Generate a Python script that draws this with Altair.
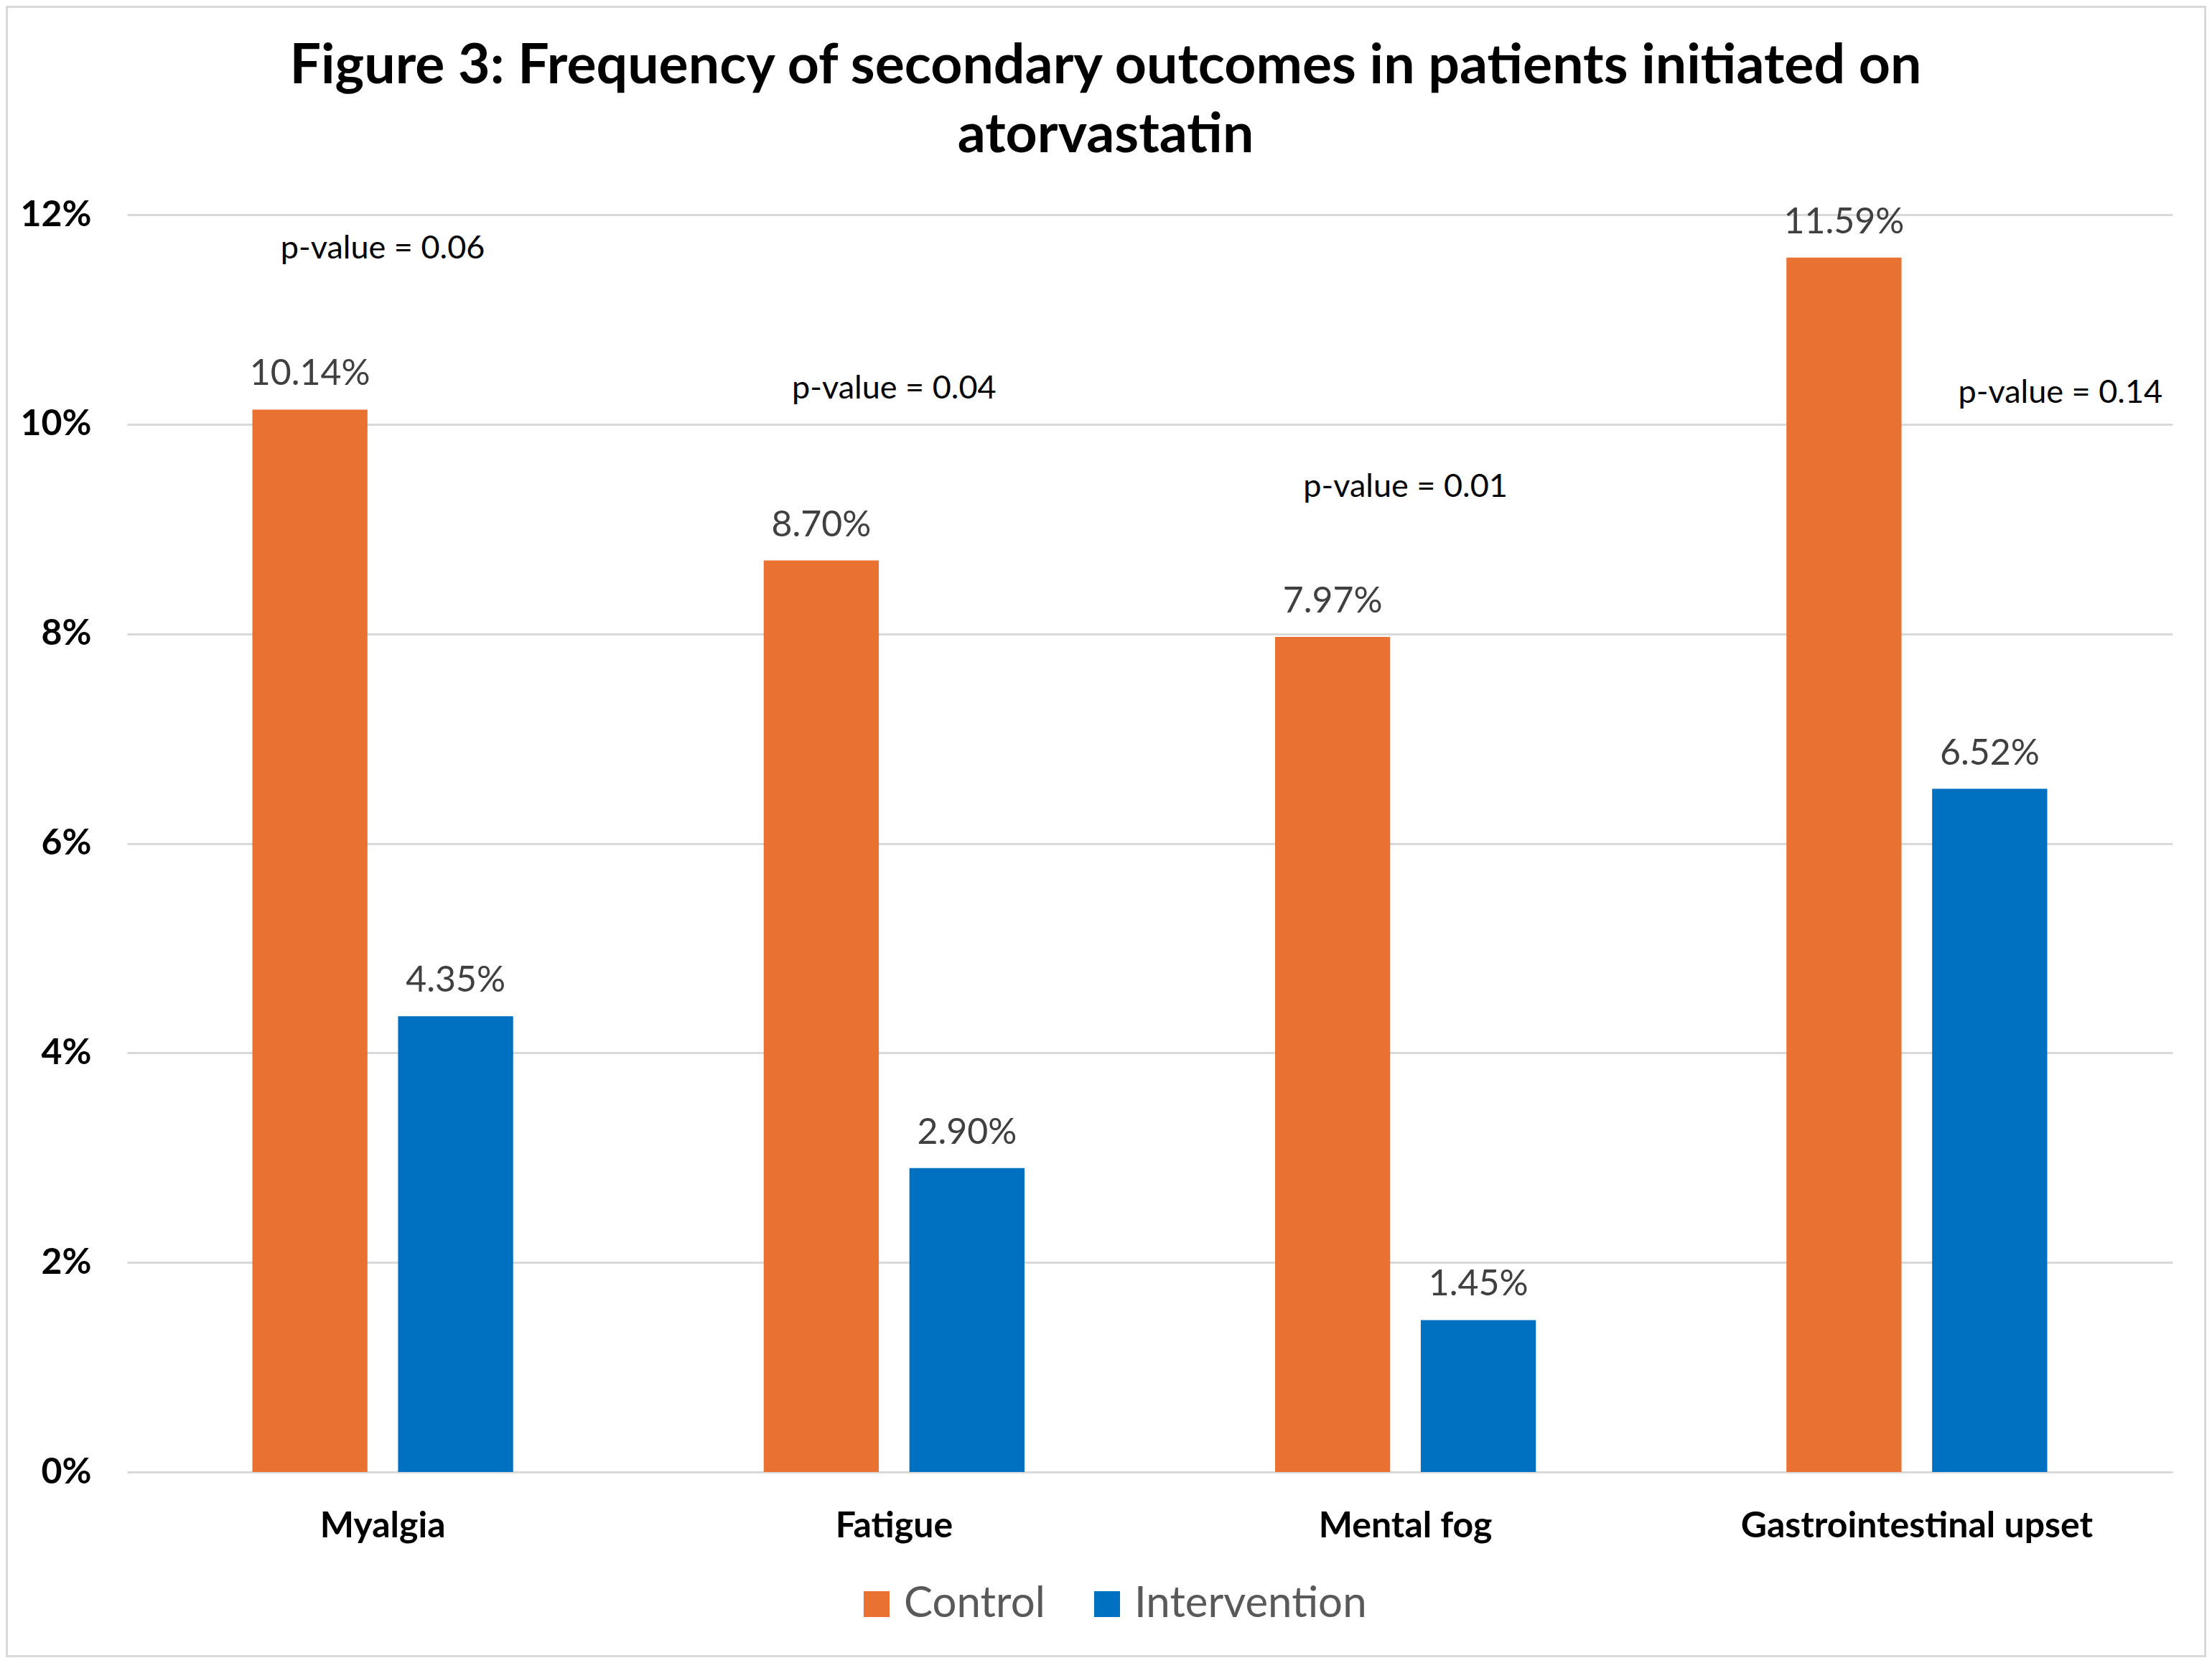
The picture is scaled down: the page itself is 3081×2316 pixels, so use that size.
import altair as alt
import pandas as pd

categories = ["Myalgia", "Fatigue", "Mental fog", "Gastrointestinal upset"]
groups = ["Control", "Intervention"]
control = [0.1014, 0.0870, 0.0797, 0.1159]
intervention = [0.0435, 0.0290, 0.0145, 0.0652]
p_labels = ["p-value = 0.06", "p-value = 0.04", "p-value = 0.01", "p-value = 0.14"]
p_label_y = [0.1168, 0.1034, 0.0940, 0.1030]
y_ticks = [0, 0.02, 0.04, 0.06, 0.08, 0.10, 0.12]
colors = ["#E97132", "#0070C0"]
title_line1 = "Figure 3: Frequency of secondary outcomes in patients initiated on"
title_line2 = "atorvastatin"

rows = []
for i, c in enumerate(categories):
    rows.append({"Outcome": c, "Group": "Control", "Value": control[i]})
    rows.append({"Outcome": c, "Group": "Intervention", "Value": intervention[i]})
df = pd.DataFrame(rows)
pdf = pd.DataFrame({"Outcome": categories, "Label": p_labels, "Y": p_label_y})

W, H = 2849, 1751
PL, PT, PR, PB = 169, 291, 47, 258
FONT = "Lato"

x = alt.X("Outcome:N", sort=categories, title=None,
          scale=alt.Scale(paddingInner=0.49, paddingOuter=0.245),
          axis=alt.Axis(labelAngle=0, labelFontSize=50, labelFontWeight="bold",
                        labelColor="black", labelPadding=50, ticks=False,
                        domain=False, labelFont=FONT, labelLimit=2000))
xoff = alt.XOffset("Group:N", sort=groups,
                   scale=alt.Scale(paddingInner=0.21, paddingOuter=0))
y = alt.Y("Value:Q", scale=alt.Scale(domain=[0, 0.12]), title=None,
          axis=alt.Axis(format=".0%", values=y_ticks, labelFontSize=50,
                        labelFontWeight="bold", labelColor="black",
                        labelPadding=50, ticks=False, domain=False,
                        gridColor="#D9D9D9", gridWidth=3, labelFont=FONT))
color = alt.Color("Group:N", sort=groups,
                  scale=alt.Scale(domain=groups, range=colors),
                  legend=alt.Legend(title=None, orient="none", direction="horizontal",
                                    legendX=1014, legendY=1905,
                                    symbolType="square", symbolSize=1300,
                                    symbolStrokeWidth=0, labelFont=FONT,
                                    labelFontSize=60, labelColor="#595959",
                                    labelOffset=8, columnPadding=56,
                                    labelLimit=2000))

one = pd.DataFrame({"a": [0]})
border = alt.Chart(one).mark_rect(
    fill="transparent", stroke="#D9D9D9", strokeWidth=3
).encode(x=alt.value(-PL + 1.5), x2=alt.value(W + PR - 1.5),
         y=alt.value(-PT + 1.5), y2=alt.value(H + PB - 1.5))

t1 = alt.Chart(one).mark_text(
    text=title_line1, font=FONT, fontSize=77, fontWeight="bold", color="black",
    align="center", baseline="alphabetic"
).encode(x=alt.value(1363), y=alt.value(-183))
t2 = alt.Chart(one).mark_text(
    text=title_line2, font=FONT, fontSize=77, fontWeight="bold", color="black",
    align="center", baseline="alphabetic"
).encode(x=alt.value(1363), y=alt.value(-87))

bars = alt.Chart(df).mark_bar().encode(x=x, xOffset=xoff, y=y, color=color)

labels = alt.Chart(df).mark_text(
    baseline="alphabetic", dy=-34, fontSize=50, color="#404040", font=FONT
).encode(x=x, xOffset=xoff, y=y, text=alt.Text("Value:Q", format=".2%"))

p_main = alt.Chart(pdf).transform_filter(
    alt.datum.Outcome != "Gastrointestinal upset"
).mark_text(baseline="middle", fontSize=45, color="black", font=FONT).encode(
    x=alt.X("Outcome:N", sort=categories), y=alt.Y("Y:Q"), text="Label:N")

p_gi = alt.Chart(pdf).transform_filter(
    alt.datum.Outcome == "Gastrointestinal upset"
).mark_text(baseline="middle", fontSize=45, color="black", font=FONT, dx=200).encode(
    x=alt.X("Outcome:N", sort=categories), y=alt.Y("Y:Q"), text="Label:N")

chart = alt.layer(border, t1, t2, bars, labels, p_main, p_gi).properties(
    width=W, height=H,
    autosize=alt.AutoSizeParams(type="none"),
    padding={"left": PL, "top": PT, "right": PR, "bottom": PB},
    background="white",
).configure_view(stroke=None)

chart.save("out.html", embed_options={"renderer": "svg", "actions": False})
